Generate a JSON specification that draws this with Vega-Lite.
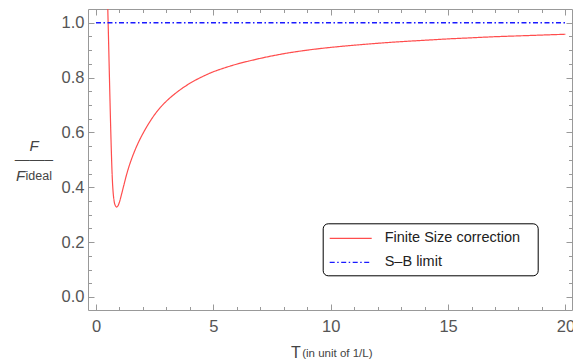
{
  "$schema": "https://vega.github.io/schema/vega-lite/v6.json",
  "width": 484,
  "height": 301,
  "autosize": {"type": "none"},
  "padding": {"left": 88, "top": 9, "right": 1, "bottom": 51},
  "background": "white",
  "config": {"view": {"stroke": null}, "font": "Liberation Sans"},
  "title": {
    "text": "F",
    "orient": "top",
    "anchor": "start",
    "frame": "group",
    "offset": 0,
    "dx": -72,
    "dy": 187.4,
    "align": "left",
    "baseline": "alphabetic",
    "fontSize": 15,
    "fontStyle": "italic",
    "fontWeight": "normal",
    "color": "#444444"
  },
  "layer": [
    {
      "data": {"values": [
        {"T": 0.45, "F": 1.23, "s": "Finite Size correction"},
        {"T": 0.5, "F": 1.06, "s": "Finite Size correction"},
        {"T": 0.525, "F": 0.975, "s": "Finite Size correction"},
        {"T": 0.55, "F": 0.885, "s": "Finite Size correction"},
        {"T": 0.575, "F": 0.795, "s": "Finite Size correction"},
        {"T": 0.6, "F": 0.707, "s": "Finite Size correction"},
        {"T": 0.625, "F": 0.622, "s": "Finite Size correction"},
        {"T": 0.65, "F": 0.545, "s": "Finite Size correction"},
        {"T": 0.675, "F": 0.477, "s": "Finite Size correction"},
        {"T": 0.7, "F": 0.424, "s": "Finite Size correction"},
        {"T": 0.725, "F": 0.388, "s": "Finite Size correction"},
        {"T": 0.75, "F": 0.364, "s": "Finite Size correction"},
        {"T": 0.78, "F": 0.346, "s": "Finite Size correction"},
        {"T": 0.82, "F": 0.334, "s": "Finite Size correction"},
        {"T": 0.88, "F": 0.328, "s": "Finite Size correction"},
        {"T": 0.94, "F": 0.333, "s": "Finite Size correction"},
        {"T": 1.0, "F": 0.346, "s": "Finite Size correction"},
        {"T": 1.1, "F": 0.378, "s": "Finite Size correction"},
        {"T": 1.2, "F": 0.412, "s": "Finite Size correction"},
        {"T": 1.3, "F": 0.445, "s": "Finite Size correction"},
        {"T": 1.4, "F": 0.474, "s": "Finite Size correction"},
        {"T": 1.55, "F": 0.511, "s": "Finite Size correction"},
        {"T": 1.7, "F": 0.543, "s": "Finite Size correction"},
        {"T": 1.85, "F": 0.571, "s": "Finite Size correction"},
        {"T": 2.0, "F": 0.596, "s": "Finite Size correction"},
        {"T": 2.25, "F": 0.633, "s": "Finite Size correction"},
        {"T": 2.5, "F": 0.665, "s": "Finite Size correction"},
        {"T": 2.75, "F": 0.692, "s": "Finite Size correction"},
        {"T": 3.0, "F": 0.714, "s": "Finite Size correction"},
        {"T": 3.5, "F": 0.75, "s": "Finite Size correction"},
        {"T": 4.0, "F": 0.779, "s": "Finite Size correction"},
        {"T": 4.5, "F": 0.802, "s": "Finite Size correction"},
        {"T": 5.0, "F": 0.821, "s": "Finite Size correction"},
        {"T": 5.5, "F": 0.836, "s": "Finite Size correction"},
        {"T": 6.0, "F": 0.849, "s": "Finite Size correction"},
        {"T": 6.5, "F": 0.86, "s": "Finite Size correction"},
        {"T": 7.0, "F": 0.87, "s": "Finite Size correction"},
        {"T": 7.5, "F": 0.879, "s": "Finite Size correction"},
        {"T": 8.0, "F": 0.887, "s": "Finite Size correction"},
        {"T": 9.0, "F": 0.9, "s": "Finite Size correction"},
        {"T": 10.0, "F": 0.91, "s": "Finite Size correction"},
        {"T": 11.0, "F": 0.918, "s": "Finite Size correction"},
        {"T": 12.0, "F": 0.925, "s": "Finite Size correction"},
        {"T": 13.0, "F": 0.931, "s": "Finite Size correction"},
        {"T": 14.0, "F": 0.936, "s": "Finite Size correction"},
        {"T": 15.0, "F": 0.941, "s": "Finite Size correction"},
        {"T": 16.0, "F": 0.945, "s": "Finite Size correction"},
        {"T": 17.0, "F": 0.949, "s": "Finite Size correction"},
        {"T": 18.0, "F": 0.952, "s": "Finite Size correction"},
        {"T": 19.0, "F": 0.955, "s": "Finite Size correction"},
        {"T": 20.0, "F": 0.958, "s": "Finite Size correction"}
      ]},
      "mark": {"type": "line", "clip": true, "strokeWidth": 1.2, "interpolate": "monotone"},
      "encoding": {
        "x": {
          "field": "T", "type": "quantitative",
          "scale": {"domain": [-0.34, 20.28], "nice": false, "zero": false},
          "axis": {
            "orient": "bottom",
            "values": [0,1,2,3,4,5,6,7,8,9,10,11,12,13,14,15,16,17,18,19,20],
            "labelExpr": "datum.value % 5 === 0 ? datum.label : ''",
            "tickSize": {"condition": {"test": "datum.value % 5 === 0", "value": -6}, "value": -3.5},
            "labelPadding": 14.5,
            "labelFontSize": 16.5,
            "labelColor": "#555555",
            "labelOverlap": false,
            "labelFlush": false,
            "domainColor": "#999999",
            "tickColor": "#999999",
            "grid": false,
            "title": "T",
            "titleFontSize": 16,
            "titleFontWeight": "normal",
            "titleColor": "#444444",
            "titleX": 207.5,
            "titleY": 47,
            "titleAlign": "center",
            "titleBaseline": "alphabetic"
          }
        },
        "y": {
          "field": "F", "type": "quantitative",
          "scale": {"domain": [-0.0474, 1.05], "nice": false, "zero": false},
          "axis": {
            "orient": "left",
            "values": [0,0.05,0.1,0.15,0.2,0.25,0.3,0.35,0.4,0.45,0.5,0.55,0.6,0.65,0.7,0.75,0.8,0.85,0.9,0.95,1.0],
            "format": ".1f",
            "labelExpr": "abs(datum.value*5 - round(datum.value*5)) < 0.001 ? datum.label : ''",
            "tickSize": {"condition": {"test": "abs(datum.value*5 - round(datum.value*5)) < 0.001", "value": -6}, "value": -3.5},
            "labelPadding": 10,
            "labelFontSize": 16.5,
            "labelColor": "#555555",
            "labelOverlap": false,
            "labelFlush": false,
            "domainColor": "#999999",
            "tickColor": "#999999",
            "grid": false,
            "title": ["F", "\u2014\u2014\u2013"],
            "titleAngle": 0,
            "titleFontSize": 15,
            "titleFontStyle": "italic",
            "titleFontWeight": "normal",
            "titleColor": "#444444",
            "titleX": -54.5,
            "titleY": 141.7,
            "titleAlign": "center",
            "titleBaseline": "alphabetic",
            "titleLineHeight": 13
          }
        },
        "color": {
          "field": "s", "type": "nominal",
          "scale": {"domain": ["Finite Size correction", "S\u2013B limit"], "range": ["#ff4d4d", "#1a1aff"]},
          "legend": {
            "orient": "none", "legendX": 234.7, "legendY": 214.3, "title": null,
            "padding": 6, "strokeColor": "#000000", "cornerRadius": 5, "fillColor": "white",
            "symbolType": "M-1,0H4.25", "symbolSize": 256, "symbolStrokeWidth": 1.3, "symbolFillColor": "transparent",
            "labelOffset": 38, "labelFontSize": 14.5, "labelColor": "#222222", "rowPadding": 8,
            "labelExpr": "datum.label + '\u2800'"
          }
        },
        "strokeDash": {
          "field": "s", "type": "nominal",
          "scale": {"domain": ["Finite Size correction", "S\u2013B limit"], "range": [[1, 0], [5, 2.5, 1.5, 2.5]]},
          "legend": {
            "orient": "none", "legendX": 234.7, "legendY": 214.3, "title": null,
            "padding": 6, "strokeColor": "#000000", "cornerRadius": 5, "fillColor": "white",
            "symbolType": "M-1,0H4.25", "symbolSize": 256, "symbolStrokeWidth": 1.3, "symbolFillColor": "transparent",
            "labelOffset": 38, "labelFontSize": 14.5, "labelColor": "#222222", "rowPadding": 8,
            "labelExpr": "datum.label + '\u2800'"
          }
        }
      }
    },
    {
      "data": {"values": [
        {"T": 0, "F": 1.0, "s": "S\u2013B limit"},
        {"T": 20, "F": 1.0, "s": "S\u2013B limit"}
      ]},
      "mark": {"type": "line", "strokeWidth": 1.5},
      "encoding": {
        "x": {
          "field": "T", "type": "quantitative",
          "axis": {
            "orient": "top",
            "values": [0,1,2,3,4,5,6,7,8,9,10,11,12,13,14,15,16,17,18,19,20],
            "labels": false,
            "tickSize": {"condition": {"test": "datum.value % 5 === 0", "value": -6}, "value": -3.5},
            "domainColor": "#999999",
            "tickColor": "#999999",
            "grid": false,
            "title": "(in unit of 1/L)",
            "titleFontSize": 11.5,
            "titleFontWeight": "normal",
            "titleColor": "#444444",
            "titleX": 213.7,
            "titleY": 347.7,
            "titleAlign": "left",
            "titleBaseline": "alphabetic"
          }
        },
        "y": {
          "field": "F", "type": "quantitative",
          "axis": {
            "orient": "right",
            "values": [0,0.05,0.1,0.15,0.2,0.25,0.3,0.35,0.4,0.45,0.5,0.55,0.6,0.65,0.7,0.75,0.8,0.85,0.9,0.95,1.0],
            "labels": false,
            "tickSize": {"condition": {"test": "abs(datum.value*5 - round(datum.value*5)) < 0.001", "value": -6}, "value": -3.5},
            "domainColor": "#999999",
            "tickColor": "#999999",
            "grid": false,
            "title": "ideal",
            "titleAngle": 0,
            "titleFontSize": 12.5,
            "titleFontWeight": "normal",
            "titleColor": "#444444",
            "titleX": -547,
            "titleY": 170,
            "titleAlign": "left",
            "titleBaseline": "alphabetic"
          }
        },
        "color": {
          "field": "s", "type": "nominal",
          "legend": {
            "orient": "none", "legendX": 234.7, "legendY": 214.3, "title": null,
            "padding": 6, "strokeColor": "#000000", "cornerRadius": 5, "fillColor": "white",
            "symbolType": "M-1,0H4.25", "symbolSize": 256, "symbolStrokeWidth": 1.3, "symbolFillColor": "transparent",
            "labelOffset": 38, "labelFontSize": 14.5, "labelColor": "#222222", "rowPadding": 8,
            "labelExpr": "datum.label + '\u2800'"
          }
        },
        "strokeDash": {
          "field": "s", "type": "nominal",
          "legend": {
            "orient": "none", "legendX": 234.7, "legendY": 214.3, "title": null,
            "padding": 6, "strokeColor": "#000000", "cornerRadius": 5, "fillColor": "white",
            "symbolType": "M-1,0H4.25", "symbolSize": 256, "symbolStrokeWidth": 1.3, "symbolFillColor": "transparent",
            "labelOffset": 38, "labelFontSize": 14.5, "labelColor": "#222222", "rowPadding": 8,
            "labelExpr": "datum.label + '\u2800'"
          }
        }
      }
    }
  ],
  "resolve": {"axis": {"x": "independent", "y": "independent"}}
}
